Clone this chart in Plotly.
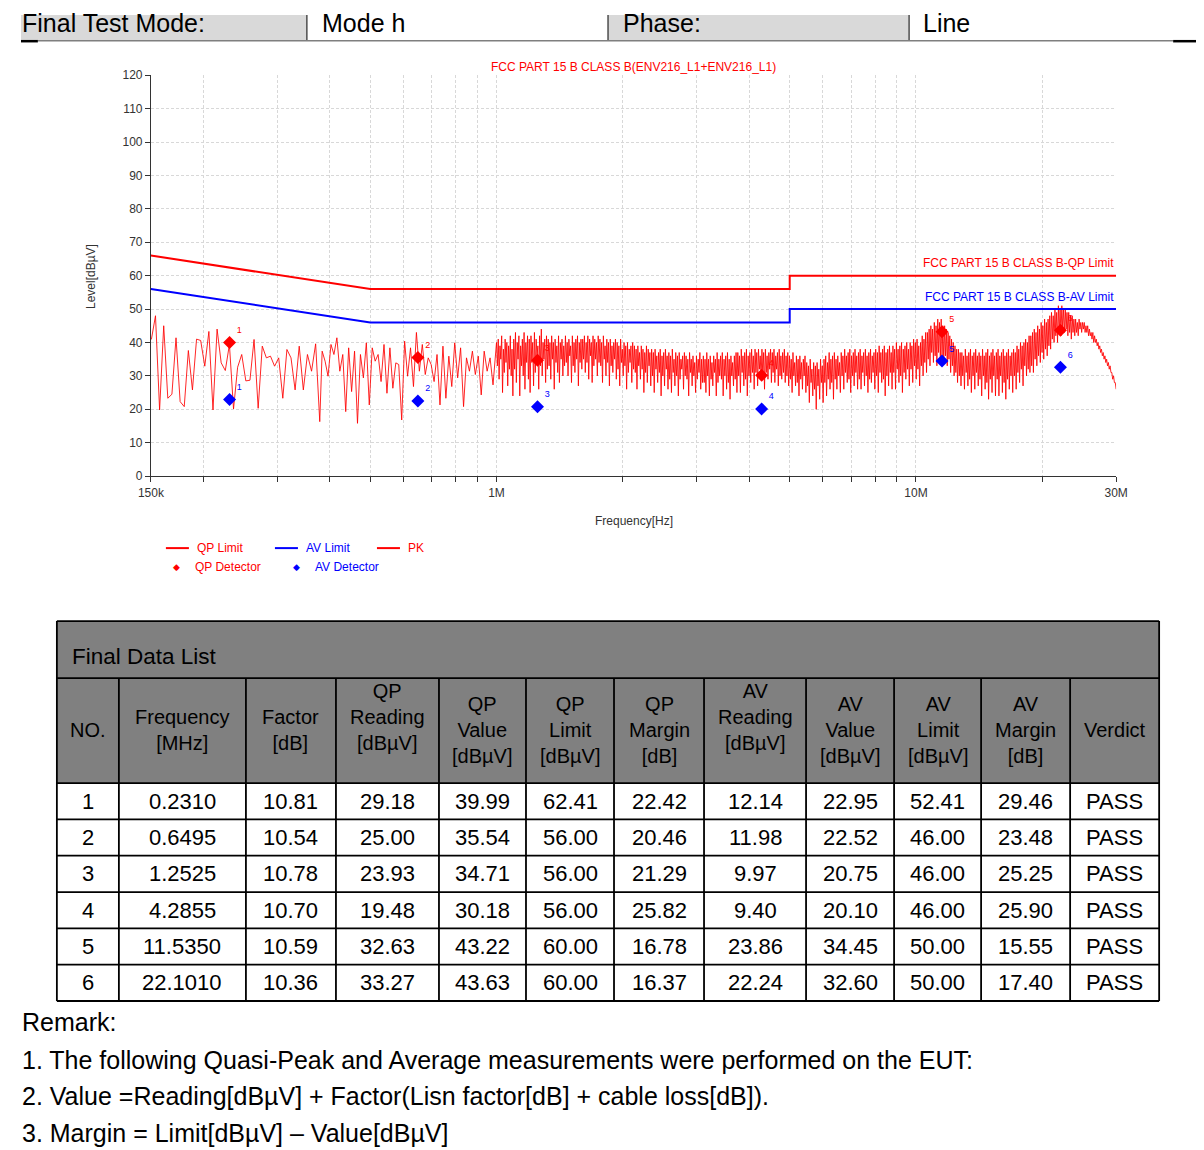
import numpy as np
import plotly.graph_objects as go

# ---------------- data ----------------
HEADER_LABELS = ["Final Test Mode:", "Mode h", "Phase:", "Line"]

CHART_TITLE = "FCC PART 15 B CLASS B(ENV216_L1+ENV216_L1)"
QP_LIMIT_NAME = "FCC PART 15 B CLASS B-QP Limit"
AV_LIMIT_NAME = "FCC PART 15 B CLASS B-AV Limit"

LIMIT_FREQ_MHZ = [0.15, 0.5, 5.0, 5.0, 30.0]
QP_LIMIT_LEVEL = [66, 56, 56, 60, 60]
AV_LIMIT_LEVEL = [56, 46, 46, 50, 50]

X_TICK_VALUES = [0.15, 0.2, 0.3, 0.4, 0.5, 0.6, 0.7, 0.8, 0.9, 1, 2, 3, 4, 5, 6, 7, 8, 9, 10, 20, 30]
X_TICK_LABELS = {0.15: "150k", 1: "1M", 10: "10M", 30: "30M"}
Y_TICK_VALUES = [0, 10, 20, 30, 40, 50, 60, 70, 80, 90, 100, 110, 120]

# PK sweep, in three sweep segments (MHz)
PK_SEGMENT_BOUNDS = [(0.1504, 0.379), (0.384, 0.997), (1.0, 30.0)]
PK_LEVEL_A = [40.9, 48.0, 19.8, 45.0, 23.3, 24.5, 41.4, 22.3, 20.8, 37.6, 25.8, 41.0, 40.6, 32.9,
              43.3, 19.8, 44.0, 33.9, 31.6, 39.4, 20.1, 32.6, 36.4, 28.5, 28.7, 40.9, 20.3, 38.9,
              35.4, 35.9, 32.9, 35.4, 23.3, 37.9, 35.4, 25.8, 38.9, 25.8, 36.4, 31.4, 39.6, 16.3]
PK_LEVEL_B = [37.4, 34.4, 29.9, 39.4, 36.4, 41.4, 31.4, 36.4, 19.3, 38.4, 25.3, 37.4, 15.8, 36.4,
              29.4, 39.9, 21.3, 38.4, 34.4, 36.4, 28.3, 39.4, 24.8, 38.4, 26.3, 33.9, 33.4, 16.8,
              40.4, 29.9, 38.4, 26.8, 43.0, 31.4, 39.4, 30.4, 35.4, 33.4, 28.3, 36.4, 21.3, 38.9,
              23.3, 35.9, 26.8, 39.9, 29.4, 38.4, 20.8, 35.4, 31.4, 37.4, 30.4, 35.9, 24.3, 37.4,
              31.4, 35.4, 27.3, 39.9]
PK_LEVEL_C = [
    40, 33, 41, 29, 39, 35, 42, 25, 38, 31, 41, 34, 40, 27, 39, 32, 42, 30, 38, 24,
    41, 32, 43, 28, 40, 35, 42, 24, 39, 33, 41, 30, 43, 26, 40, 34, 42, 29, 41, 25,
    42, 34, 40, 27, 43, 31, 41, 36, 39, 26, 42, 33, 44, 30, 40, 35, 41, 28, 42, 32,
    41, 33, 40, 29, 42, 35, 40, 26, 41, 34, 39, 31, 42, 28, 40, 35, 41, 30, 39, 33,
    42, 34, 40, 30, 41, 36, 39, 28, 42, 33, 40, 31, 41, 35, 42, 27, 40, 34, 41, 32,
    41, 35, 42, 31, 40, 34, 42, 29, 41, 36, 40, 28, 42, 33, 41, 35, 40, 30, 42, 34,
    41, 33, 40, 28, 42, 35, 39, 30, 41, 34, 40, 27, 41, 33, 39, 31, 40, 35, 41, 29,
    40, 32, 39, 27, 41, 34, 38, 30, 40, 33, 39, 26, 40, 31, 38, 34, 39, 28, 40, 32,
    39, 31, 38, 26, 39, 33, 37, 29, 39, 32, 38, 25, 37, 31, 39, 28, 38, 33, 37, 27,
    38, 30, 37, 25, 38, 32, 36, 28, 37, 31, 38, 24, 36, 30, 37, 27, 38, 32, 36, 26,
    37, 29, 36, 25, 38, 31, 35, 27, 37, 30, 36, 24, 37, 29, 35, 32, 36, 26, 37, 30,
    36, 29, 35, 24, 37, 31, 35, 27, 36, 30, 34, 25, 36, 29, 35, 31, 37, 26, 35, 28,
    36, 28, 35, 25, 37, 30, 35, 24, 36, 29, 34, 27, 36, 31, 35, 24, 37, 28, 35, 30,
    36, 29, 37, 24, 35, 30, 36, 26, 37, 28, 35, 23, 36, 30, 34, 27, 36, 29, 37, 25,
    37, 30, 36, 25, 38, 31, 36, 27, 37, 29, 38, 24, 36, 30, 37, 28, 38, 31, 36, 26,
    38, 31, 37, 27, 38, 32, 36, 29, 38, 30, 37, 26, 38, 31, 36, 29, 37, 32, 38, 28,
    37, 31, 38, 28, 36, 32, 37, 27, 38, 30, 36, 29, 37, 31, 38, 28, 36, 30, 37, 27,
    36, 29, 35, 25, 37, 30, 34, 27, 36, 28, 35, 24, 36, 29, 34, 26, 35, 30, 36, 25,
    34, 27, 33, 22, 35, 28, 32, 24, 34, 26, 33, 20, 34, 27, 32, 23, 35, 28, 33, 22,
    35, 28, 36, 24, 34, 29, 37, 26, 35, 28, 36, 23, 37, 29, 35, 26, 36, 30, 34, 25,
    37, 30, 36, 26, 38, 31, 36, 28, 37, 29, 38, 25, 36, 30, 37, 27, 38, 31, 36, 26,
    37, 29, 38, 26, 36, 31, 37, 27, 38, 30, 36, 25, 37, 29, 38, 28, 36, 31, 37, 26,
    38, 30, 37, 25, 39, 31, 37, 28, 38, 29, 39, 24, 37, 30, 38, 27, 39, 31, 37, 26,
    39, 31, 38, 26, 40, 32, 38, 28, 39, 30, 40, 25, 38, 31, 39, 29, 40, 32, 38, 27,
    40, 32, 39, 28, 41, 33, 40, 29, 41, 32, 39, 27, 40, 33, 42, 30, 41, 34, 43, 31,
    43, 35, 44, 33, 45, 37, 44, 34, 46, 36, 45, 33, 47, 37, 46, 35, 47, 36, 45, 34,
    45, 36, 44, 33, 43, 35, 42, 31, 41, 33, 40, 30, 39, 31, 38, 28, 38, 30, 37, 27,
    37, 30, 36, 26, 38, 31, 36, 27, 37, 29, 38, 25, 36, 30, 37, 26, 38, 31, 36, 27,
    37, 29, 36, 24, 38, 30, 36, 26, 37, 28, 38, 23, 36, 29, 37, 25, 38, 30, 36, 24,
    37, 29, 38, 24, 36, 30, 37, 25, 38, 28, 36, 23, 37, 29, 38, 26, 36, 30, 37, 25,
    38, 30, 37, 26, 39, 31, 38, 28, 40, 32, 39, 27, 40, 33, 41, 30, 40, 32, 42, 31,
    42, 33, 43, 31, 44, 35, 43, 33, 45, 36, 44, 34, 46, 37, 45, 35, 47, 38, 46, 36,
    47, 39, 48, 38, 49, 41, 48, 40, 50, 42, 49, 40, 51, 43, 50, 42, 51, 44, 50, 43,
    50, 44, 49, 42, 49, 43, 48, 41, 48, 43, 47, 42, 47, 43, 46, 42, 47, 44, 46, 43,
    46, 44, 46, 43, 45, 43, 45, 42, 44, 42, 43, 41, 43, 40, 42, 40, 41, 39, 40, 38,
    39, 37, 38, 36, 37, 35, 36, 34, 35, 33, 34, 32, 33, 31, 31, 29, 30, 28, 28, 26,
]

# Final data list
ROW_NO = [1, 2, 3, 4, 5, 6]
FREQ_MHZ = [0.2310, 0.6495, 1.2525, 4.2855, 11.5350, 22.1010]
FACTOR_DB = [10.81, 10.54, 10.78, 10.70, 10.59, 10.36]
QP_READING = [29.18, 25.00, 23.93, 19.48, 32.63, 33.27]
QP_VALUE = [39.99, 35.54, 34.71, 30.18, 43.22, 43.63]
QP_LIMIT = [62.41, 56.00, 56.00, 56.00, 60.00, 60.00]
QP_MARGIN = [22.42, 20.46, 21.29, 25.82, 16.78, 16.37]
AV_READING = [12.14, 11.98, 9.97, 9.40, 23.86, 22.24]
AV_VALUE = [22.95, 22.52, 20.75, 20.10, 34.45, 32.60]
AV_LIMIT = [52.41, 46.00, 46.00, 46.00, 50.00, 50.00]
AV_MARGIN = [29.46, 23.48, 25.25, 25.90, 15.55, 17.40]
VERDICT = ["PASS"] * 6

TABLE_TITLE = "Final Data List"
TABLE_HEADERS = ["NO.", "Frequency<br>[MHz]", "Factor<br>[dB]", "QP<br>Reading<br>[dBµV]<br> ",
                 "QP<br>Value<br>[dBµV]", "QP<br>Limit<br>[dBµV]", "QP<br>Margin<br>[dB]",
                 "AV<br>Reading<br>[dBµV]<br> ", "AV<br>Value<br>[dBµV]", "AV<br>Limit<br>[dBµV]",
                 "AV<br>Margin<br>[dB]", "Verdict"]

REMARKS = ["Remark:",
           "1. The following Quasi-Peak and Average measurements were performed on the EUT:",
           "2. Value =Reading[dBµV] + Factor(Lisn factor[dB] + cable loss[dB]).",
           "3. Margin = Limit[dBµV] – Value[dBµV]"]

# ---------------- layout helpers ----------------
# Positions are given in target-picture pixels. The photographed page shows the
# figure slightly reduced and offset, so positions are mapped back before use.
W, H, OFF = 1204, 1150, 8
SX, BX = 0.979, 13.3
SY, BY = 0.988, 6.9
def px(x):
    return ((x - BX) / SX - OFF) / W
def py(y):
    return 1 - ((y - BY) / SY - OFF) / H

SANS = "Liberation Sans, Arial, sans-serif"
RED = "#ff0000"
BLUE = "#0000ff"
AXIS_TXT = "#333333"

fig = go.Figure()

# PK trace
pk_f, pk_l = [], []
for (f0, f1), lev in zip(PK_SEGMENT_BOUNDS, [PK_LEVEL_A, PK_LEVEL_B, PK_LEVEL_C]):
    pk_f.extend(np.geomspace(f0, f1, len(lev)))
    pk_l.extend(lev)
fig.add_trace(go.Scatter(x=pk_f, y=pk_l, mode="lines",
                         line=dict(color="rgba(255,0,0,0.85)", width=1), hoverinfo="skip"))

# limits
fig.add_trace(go.Scatter(x=LIMIT_FREQ_MHZ, y=QP_LIMIT_LEVEL, mode="lines",
                         line=dict(color=RED, width=2)))
fig.add_trace(go.Scatter(x=LIMIT_FREQ_MHZ, y=AV_LIMIT_LEVEL, mode="lines",
                         line=dict(color=BLUE, width=2)))

labels = [str(n) for n in ROW_NO]
fig.add_trace(go.Scatter(x=FREQ_MHZ, y=QP_VALUE, mode="markers+text", text=labels,
                         textposition="top right", textfont=dict(color=RED, size=9, family=SANS),
                         marker=dict(symbol="diamond", size=10, color=RED)))
fig.add_trace(go.Scatter(x=FREQ_MHZ, y=AV_VALUE, mode="markers+text", text=labels,
                         textposition="top right", textfont=dict(color=BLUE, size=9, family=SANS),
                         marker=dict(symbol="diamond", size=10, color=BLUE)))

tick_text = [X_TICK_LABELS.get(v, "") for v in X_TICK_VALUES]
grid = dict(showgrid=True, gridcolor="#d8d8d8", gridwidth=1, griddash="3px,2px")
fig.update_xaxes(type="log", range=[np.log10(0.15), np.log10(30)],
                 domain=[px(151), px(1116)], tickvals=X_TICK_VALUES, ticktext=tick_text,
                 ticks="outside", ticklen=5, tickcolor=AXIS_TXT, showline=True, linecolor=AXIS_TXT,
                 linewidth=1, tickfont=dict(family=SANS, size=12, color=AXIS_TXT),
                 zeroline=False, **grid)
fig.update_yaxes(range=[0, 120], domain=[py(476), py(75)], tickvals=Y_TICK_VALUES,
                 ticks="outside", ticklen=5, tickcolor=AXIS_TXT, showline=True, linecolor=AXIS_TXT,
                 linewidth=1, tickfont=dict(family=SANS, size=12, color=AXIS_TXT),
                 zeroline=False, **grid)

shapes = []
ann = []

def clip01(v):
    return min(max(v, 0.0), 1.0)

def rect(x0, y0, x1, y1, fill, line_color=None, lw=0):
    shapes.append(dict(type="rect", xref="paper", yref="paper", x0=clip01(px(x0)), x1=clip01(px(x1)),
                       y0=clip01(py(y1)), y1=clip01(py(y0)), fillcolor=fill,
                       line=dict(color=line_color or fill, width=lw), layer="below"))

def hline(x0, x1, y, color="black", lw=1.5):
    shapes.append(dict(type="line", xref="paper", yref="paper", x0=clip01(px(x0)), x1=clip01(px(x1)),
                       y0=py(y), y1=py(y), line=dict(color=color, width=lw)))

def vline(x, y0, y1, color="black", lw=1.5):
    shapes.append(dict(type="line", xref="paper", yref="paper", x0=px(x), x1=px(x),
                       y0=clip01(py(y0)), y1=clip01(py(y1)), line=dict(color=color, width=lw)))

def text(x, y, s, size, color="black", family=SANS, xanchor="center", angle=0):
    ann.append(dict(xref="paper", yref="paper", x=px(x), y=py(y), text=s, showarrow=False,
                    xanchor=xanchor, yanchor="middle", textangle=angle,
                    font=dict(size=size, color=color, family=family)))

# header bar
rect(5, 4, 307, 40, "#d9d9d9")
rect(608, 4, 909, 40, "#d9d9d9")
for x in (307, 608, 909):
    vline(x, 4, 40, lw=1)
hline(38, 1173, 40.5, color="#7f7f7f", lw=1.5)
hline(3, 38, 41, lw=2.5)
hline(1173, 1204, 41, lw=2.5)
for x, s in zip((20, 320, 621, 921), HEADER_LABELS):
    text(x, 23, s, 25, xanchor="left")

# chart texts
text(633, 67, CHART_TITLE, 12, RED)
ann.append(dict(xref="x", yref="y", x=np.log10(30), y=63.7, text=QP_LIMIT_NAME, showarrow=False,
                xanchor="right", yanchor="middle", font=dict(size=12, color=RED, family=SANS)))
ann.append(dict(xref="x", yref="y", x=np.log10(30), y=53.6, text=AV_LIMIT_NAME, showarrow=False,
                xanchor="right", yanchor="middle", font=dict(size=12, color=BLUE, family=SANS)))
text(91, 276, "Level[dBµV]", 12, AXIS_TXT, angle=-90)
text(634, 521, "Frequency[Hz]", 12, AXIS_TXT)

# legend
for (x0, col, s) in ((166, RED, "QP Limit"), (275, BLUE, "AV Limit"), (377, RED, "PK")):
    hline(x0, x0 + 23, 548, color=col, lw=2)
    text(x0 + 29, 548, s, 12, col, xanchor="left")
for (x0, col, s) in ((177, RED, "QP Detector"), (297, BLUE, "AV Detector")):
    text(x0, 567, "◆", 9, col)
    text(x0 + 16, 567, s, 12, col, xanchor="left")

# table
COL = [57, 119, 246, 336, 439, 526, 614, 704, 806, 894, 981, 1070, 1159]
T_TOP, T_HEAD, T_BODY, T_BOT = 621, 678, 783, 1001
rect(57, T_TOP, 1159, T_BODY, "#808080")
row_h = (T_BOT - T_BODY) / len(ROW_NO)
for i in range(len(ROW_NO) + 1):
    hline(57, 1159, T_BODY + i * row_h, lw=1.8)
hline(57, 1159, T_HEAD, lw=1.8)
hline(57, 1159, T_TOP, lw=1.8)
for x in COL:
    vline(x, T_HEAD if x not in (57, 1159) else T_TOP, T_BOT, lw=1.8)
text(70, 656, TABLE_TITLE, 22.5, xanchor="left")
for j, h in enumerate(TABLE_HEADERS):
    text((COL[j] + COL[j + 1]) / 2, 730, h, 20)
columns = [
    [str(n) for n in ROW_NO],
    [f"{v:.4f}" for v in FREQ_MHZ],
    [f"{v:.2f}" for v in FACTOR_DB],
    [f"{v:.2f}" for v in QP_READING],
    [f"{v:.2f}" for v in QP_VALUE],
    [f"{v:.2f}" for v in QP_LIMIT],
    [f"{v:.2f}" for v in QP_MARGIN],
    [f"{v:.2f}" for v in AV_READING],
    [f"{v:.2f}" for v in AV_VALUE],
    [f"{v:.2f}" for v in AV_LIMIT],
    [f"{v:.2f}" for v in AV_MARGIN],
    VERDICT,
]
for j, col in enumerate(columns):
    for i, s in enumerate(col):
        text((COL[j] + COL[j + 1]) / 2, T_BODY + (i + 0.5) * row_h, s, 22)

# remarks
for y, s in zip((1022, 1060, 1096, 1133), REMARKS):
    text(20, y, s, 25, xanchor="left")

fig.update_layout(width=W, height=H, margin=dict(l=0, r=0, t=0, b=0), showlegend=False,
                  paper_bgcolor="white", plot_bgcolor="white", shapes=shapes, annotations=ann)

fig.write_html("out.html", config={"responsive": False, "displayModeBar": False})
